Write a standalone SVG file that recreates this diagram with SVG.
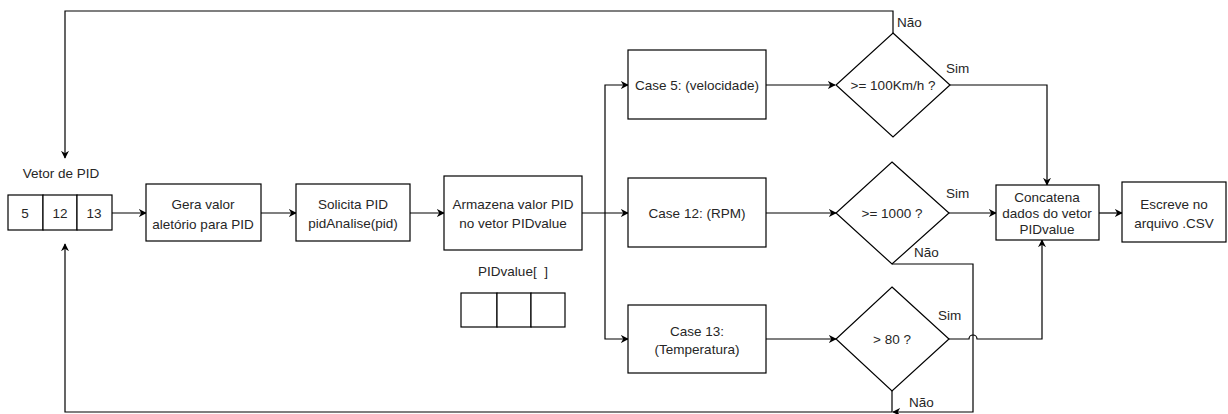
<svg xmlns="http://www.w3.org/2000/svg" width="1228" height="414" viewBox="0 0 1228 414">
  <style>
    .box { fill: #fff; stroke: #000; stroke-width: 1.2; }
    .edge { fill: none; stroke: #000; stroke-width: 1.2; }
    text { font-family: "Liberation Sans", Arial, sans-serif; font-size: 13.5px; fill: #262626; text-anchor: middle; }
    .lbl { text-anchor: start; }
  </style>
  <defs>
    <marker id="arrow" viewBox="0 0 10 10" refX="9" refY="5" markerWidth="8" markerHeight="8" markerUnits="userSpaceOnUse" orient="auto">
      <path d="M0,0 L10,5 L0,10 L3,5 Z" fill="#000"/>
    </marker>
  </defs>
  <rect width="1228" height="414" fill="#fff"/>

  <!-- connectors -->
  <g id="connectors">
    <path class="edge" d="M112,213 H146" marker-end="url(#arrow)"/>
    <path class="edge" d="M261,213 H296" marker-end="url(#arrow)"/>
    <path class="edge" d="M410,213 H444" marker-end="url(#arrow)"/>
    <path class="edge" d="M582,213 H628" marker-end="url(#arrow)"/>
    <path class="edge" d="M605,213 V85 H628" marker-end="url(#arrow)"/>
    <path class="edge" d="M605,213 V339 H628" marker-end="url(#arrow)"/>
    <path class="edge" d="M766,85 H835" marker-end="url(#arrow)"/>
    <path class="edge" d="M766,213 H836" marker-end="url(#arrow)"/>
    <path class="edge" d="M766,339 H836" marker-end="url(#arrow)"/>
    <!-- loop back from the speed test -->
    <path class="edge" d="M893,33 V11 H65 V158" marker-end="url(#arrow)"/>
    <!-- Sim branches into the merge step -->
    <path class="edge" d="M950,85 H1047 V185" marker-end="url(#arrow)"/>
    <path class="edge" d="M949,213 H996" marker-end="url(#arrow)"/>
    <path class="edge" d="M949,339 H969 A4,4 0 0 1 977,339 H1042 V240" marker-end="url(#arrow)"/>
    <!-- Não branches back to the PID vector -->
    <path class="edge" d="M892,264 H973 V412 H893" marker-end="url(#arrow)"/>
    <path class="edge" d="M892,391 V412 H65 V244" marker-end="url(#arrow)"/>
    <path class="edge" d="M1099,213 H1122" marker-end="url(#arrow)"/>
  </g>

  <g id="vetor-pid">
    <text x="61" y="178">Vetor de PID</text>
    <rect class="box" x="8" y="195" width="35" height="35"/>
    <rect class="box" x="43" y="195" width="34" height="35"/>
    <rect class="box" x="77" y="195" width="35" height="35"/>
    <text x="25" y="218">5</text>
    <text x="60" y="218">12</text>
    <text x="94" y="218">13</text>
  </g>

  <g id="gera">
    <rect class="box" x="146" y="184" width="115" height="57"/>
    <text x="203" y="209">Gera valor</text>
    <text x="203" y="229">aletório para PID</text>
  </g>

  <g id="solicita">
    <rect class="box" x="296" y="184" width="114" height="57"/>
    <text x="353" y="209">Solicita PID</text>
    <text x="353" y="228">pidAnalise(pid)</text>
  </g>

  <g id="armazena">
    <rect class="box" x="444" y="176" width="138" height="74"/>
    <text x="513" y="209">Armazena valor PID</text>
    <text x="513" y="228">no vetor PIDvalue</text>
  </g>

  <g id="pidvalue">
    <text x="513" y="276">PIDvalue[&#160;&#160;]</text>
    <rect class="box" x="461" y="293" width="36" height="34"/>
    <rect class="box" x="497" y="293" width="34" height="34"/>
    <rect class="box" x="531" y="293" width="34" height="34"/>
  </g>

  <g id="case5">
    <rect class="box" x="628" y="50" width="138" height="69"/>
    <text x="697" y="90">Case 5: (velocidade)</text>
  </g>

  <g id="case12">
    <rect class="box" x="628" y="178" width="138" height="69"/>
    <text x="697" y="218">Case 12: (RPM)</text>
  </g>

  <g id="case13">
    <rect class="box" x="628" y="305" width="138" height="68"/>
    <text x="697" y="336">Case 13:</text>
    <text x="697" y="354">(Temperatura)</text>
  </g>

  <g id="teste-velocidade">
    <path class="box" d="M893,33 L950,85 L893,137 L836,85 Z"/>
    <text x="893" y="90">&gt;= 100Km/h ?</text>
    <text class="lbl" x="897" y="27">Não</text>
    <text class="lbl" x="946" y="73">Sim</text>
  </g>

  <g id="teste-rpm">
    <path class="box" d="M892,162 L949,213 L892,264 L836,213 Z"/>
    <text x="892" y="218">&gt;= 1000 ?</text>
    <text class="lbl" x="946" y="198">Sim</text>
    <text class="lbl" x="914" y="257">Não</text>
  </g>

  <g id="teste-temperatura">
    <path class="box" d="M892,287 L949,339 L892,391 L836,339 Z"/>
    <text x="892" y="344">&gt; 80 ?</text>
    <text class="lbl" x="938" y="320">Sim</text>
    <text class="lbl" x="909" y="407">Não</text>
  </g>

  <g id="concatena">
    <rect class="box" x="996" y="185" width="103" height="55"/>
    <text x="1047" y="202">Concatena</text>
    <text x="1047" y="218">dados do vetor</text>
    <text x="1047" y="234">PIDvalue</text>
  </g>

  <g id="escreve">
    <rect class="box" x="1122" y="182" width="104" height="60"/>
    <text x="1174" y="209">Escreve no</text>
    <text x="1174" y="228">arquivo .CSV</text>
  </g>
</svg>
